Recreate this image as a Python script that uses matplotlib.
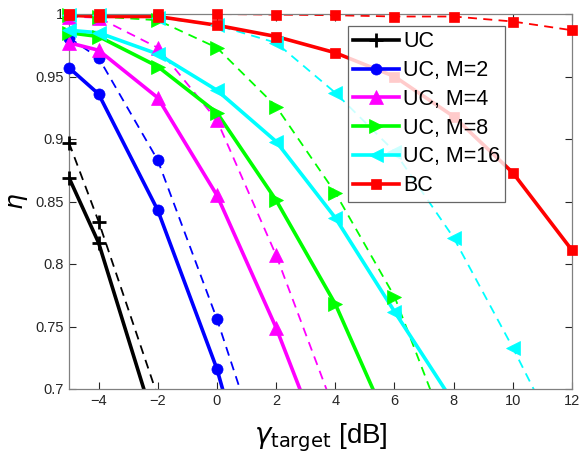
import matplotlib.pyplot as plt
import numpy as np
from matplotlib.lines import Line2D

plt.rcParams['font.family'] = ['Liberation Sans', 'DejaVu Sans']
plt.rcParams['mathtext.fontset'] = 'dejavusans'

# SNR target [dB]
gamma_db = [-5, -4, -2, 0, 2, 4, 6, 8, 10, 12]

# solid curves
uc_solid = [0.869, 0.817, 0.664, np.nan, np.nan, np.nan, np.nan, np.nan, np.nan, np.nan]
m2_solid = [0.957, 0.936, 0.843, 0.716, 0.548, np.nan, np.nan, np.nan, np.nan, np.nan]
m4_solid = [0.977, 0.971, 0.933, 0.855, 0.749, 0.627, np.nan, np.nan, np.nan, np.nan]
m8_solid = [0.985, 0.982, 0.958, 0.921, 0.851, 0.768, 0.661, np.nan, np.nan, np.nan]
m16_solid = [0.987, 0.985, 0.968, 0.939, 0.898, 0.837, 0.762, 0.689, np.nan, np.nan]
bc_solid = [0.999, 0.998, 0.998, 0.991, 0.982, 0.969, 0.950, 0.918, 0.873, 0.811]

# dashed curves
uc_dash = [0.897, 0.834, 0.694, np.nan, np.nan, np.nan, np.nan, np.nan, np.nan, np.nan]
m2_dash = [0.981, 0.965, 0.883, 0.756, 0.612, np.nan, np.nan, np.nan, np.nan, np.nan]
m4_dash = [0.998, 0.997, 0.973, 0.915, 0.807, 0.681, np.nan, np.nan, np.nan, np.nan]
m8_dash = [0.999, 0.998, 0.995, 0.973, 0.926, 0.857, 0.774, 0.651, np.nan, np.nan]
m16_dash = [0.999, 0.999, 0.997, 0.991, 0.977, 0.937, 0.890, 0.821, 0.733, 0.639]
bc_dash = [1.0, 1.0, 1.0, 1.0, 0.9995, 0.999, 0.998, 0.998, 0.994, 0.987]

labels = ['UC', 'UC, M=2', 'UC, M=4', 'UC, M=8', 'UC, M=16', 'BC']
colors = ['black', '#0000ff', '#ff00ff', '#00ff00', '#00ffff', '#ff0000']
markers = ['+', 'o', '^', '>', '<', 's']
solid = [uc_solid, m2_solid, m4_solid, m8_solid, m16_solid, bc_solid]
dashed = [uc_dash, m2_dash, m4_dash, m8_dash, m16_dash, bc_dash]

fig = plt.figure(figsize=(5.81, 4.66), dpi=100)
ax = fig.add_axes([69 / 581, 77 / 466, 503 / 581, 375 / 466])

x = np.array(gamma_db, dtype=float)
y_lo, y_hi = 0.7, 1.0

# marker sizes (MATLAB triangles come out bigger than circles/squares)
msizes = {'+': 10, 'o': 8, 's': 7.5, '^': 10.5, '>': 10.5, '<': 10.5}


def marker_style(mk):
    return dict(ms=msizes[mk], mew=2 if mk == '+' else 0.5)


def draw(y, color, marker, dashed_line):
    y = np.array(y, dtype=float)
    if dashed_line:
        ax.plot(x, y, ls='--', dashes=(5, 3.5), color=color, lw=1.3)
    else:
        ax.plot(x, y, ls='-', color=color, lw=2.6)
    # markers are not clipped at the frame
    m = (y >= y_lo - 1e-9) & (y <= y_hi + 1e-9)
    ax.plot(x[m], y[m], ls='none', marker=marker, color=color, mec=color,
            clip_on=False, zorder=3, **marker_style(marker))


for yd, c, mk in zip(dashed, colors, markers):
    draw(yd, c, mk, True)
for ys, c, mk in zip(solid, colors, markers):
    draw(ys, c, mk, False)

ax.set_xlim(-5, 12)
ax.set_ylim(y_lo, y_hi)
ax.set_xticks([-4, -2, 0, 2, 4, 6, 8, 10, 12])
ax.set_yticks([0.7, 0.75, 0.8, 0.85, 0.9, 0.95, 1.0])
ax.set_yticklabels(['0.7', '0.75', '0.8', '0.85', '0.9', '0.95', '1'])
ax.tick_params(direction='in', top=True, right=True, labelsize=10.5,
               colors='#262626', length=5, width=0.8)
for sp in ax.spines.values():
    sp.set_color('#808080')
    sp.set_linewidth(0.9)

ax.set_xlabel(r'$\gamma_{\mathrm{target}}$ [dB]', fontsize=20, labelpad=10)
ax.set_ylabel(r'$\eta$', fontsize=18, labelpad=4)

handles = [Line2D([], [], color=c, lw=2.6, marker=mk, mec=c, **marker_style(mk))
           for c, mk in zip(colors, markers)]
leg = ax.legend(handles, labels, loc='upper left',
                bbox_to_anchor=(279 / 503, 1 - 12 / 375),
                fontsize=15.5, frameon=True, fancybox=False, edgecolor='#404040',
                handlelength=2.1, handletextpad=0.2, borderpad=0.25,
                labelspacing=0.36, borderaxespad=0)
leg.get_frame().set_linewidth(0.9)
leg.set_zorder(10)

fig.savefig('out.png', dpi=100)
